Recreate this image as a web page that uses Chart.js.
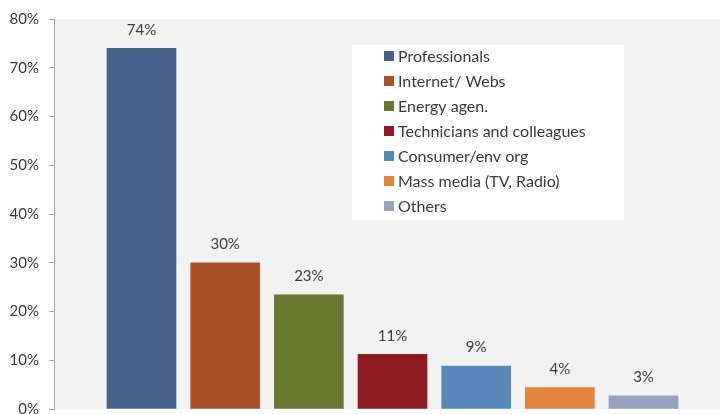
<!DOCTYPE html>
<html>
<head>
<meta charset="utf-8">
<script src="https://cdn.jsdelivr.net/npm/chart.js@4.4.0/dist/chart.umd.min.js"></script>
<style>
  html, body { margin: 0; padding: 0; background: #fff; overflow: hidden; }
  #wrap { width: 720px; height: 428px; position: relative; }
</style>
</head>
<body>
<div id="wrap"><canvas id="chart"></canvas></div>
<script>
const categories = ['Professionals', 'Internet/ Webs', 'Energy agen.', 'Technicians and colleagues',
  'Consumer/env org', 'Mass media (TV, Radio)', 'Others'];
const values = [74, 30, 23.4, 11.2, 8.8, 4.4, 2.7];
const valueLabels = ['74%', '30%', '23%', '11%', '9%', '4%', '3%'];
const colors = ['#48638c', '#a9522a', '#66792f', '#8e1b22', '#5688ba', '#e0843e', '#94a2be'];
const yTicks = [0, 10, 20, 30, 40, 50, 60, 70, 80];

const FONT = 'Lato, "Open Sans", sans-serif';
const TEXT = '#3a3a3a';

// grey plot area
const plotBg = {
  id: 'plotBg',
  beforeDraw(chart) {
    const a = chart.chartArea, ctx = chart.ctx;
    ctx.save();
    ctx.fillStyle = '#f2f2f2';
    ctx.fillRect(a.left, a.top, chart.width - a.left, a.bottom - a.top);
    ctx.restore();
  }
};

// percent labels above bars
const barLabels = {
  id: 'barLabels',
  afterDatasetsDraw(chart) {
    const ctx = chart.ctx;
    const meta = chart.getDatasetMeta(0);
    ctx.save();
    ctx.font = '15px ' + FONT;
    ctx.fillStyle = TEXT;
    ctx.textAlign = 'center';
    ctx.textBaseline = 'bottom';
    meta.data.forEach((bar, i) => {
      ctx.fillText(valueLabels[i], bar.x, bar.y - 11);
    });
    ctx.restore();
  }
};

// legend box inside the plot
const boxLegend = {
  id: 'boxLegend',
  afterDraw(chart) {
    const a = chart.chartArea, ctx = chart.ctx;
    const left = a.left + 298, top = a.top + 26, w = 272, h = 175;
    ctx.save();
    ctx.fillStyle = '#ffffff';
    ctx.fillRect(left, top, w, h);
    ctx.font = '16px ' + FONT;
    ctx.textBaseline = 'middle';
    ctx.textAlign = 'left';
    categories.forEach((c, i) => {
      const y = top + 11 + i * 25;
      ctx.fillStyle = colors[i];
      ctx.fillRect(left + 32, y - 5, 10, 10);
      ctx.fillStyle = TEXT;
      ctx.fillText(c, left + 46, y + 1);
    });
    ctx.restore();
  }
};

new Chart(document.getElementById('chart'), {
  type: 'bar',
  data: {
    datasets: [{
      data: values.map((v, i) => ({ x: i, y: v })),
      backgroundColor: colors,
      barThickness: 69
    }]
  },
  options: {
    responsive: true,
    maintainAspectRatio: false,
    animation: false,
    layout: { padding: { top: 17, right: 0, bottom: 7, left: 0 } },
    plugins: { legend: { display: false }, tooltip: { enabled: false } },
    scales: {
      x: {
        type: 'linear',
        offset: false,
        min: -1.046,
        max: 6.914,
        display: false
      },
      y: {
        min: 0,
        max: 80,
        afterBuildTicks: s => { s.ticks = yTicks.map(v => ({ value: v })); },
        afterFit: s => { s.width = 54; },
        grid: { drawOnChartArea: false, drawTicks: true, tickLength: 5, color: '#a6a6a6' },
        border: { color: '#a6a6a6' },
        ticks: {
          padding: 10,
          color: TEXT,
          font: { family: FONT, size: 15 },
          callback: v => v + '%'
        }
      }
    }
  },
  plugins: [plotBg, barLabels, boxLegend]
});
</script>
</body>
</html>
